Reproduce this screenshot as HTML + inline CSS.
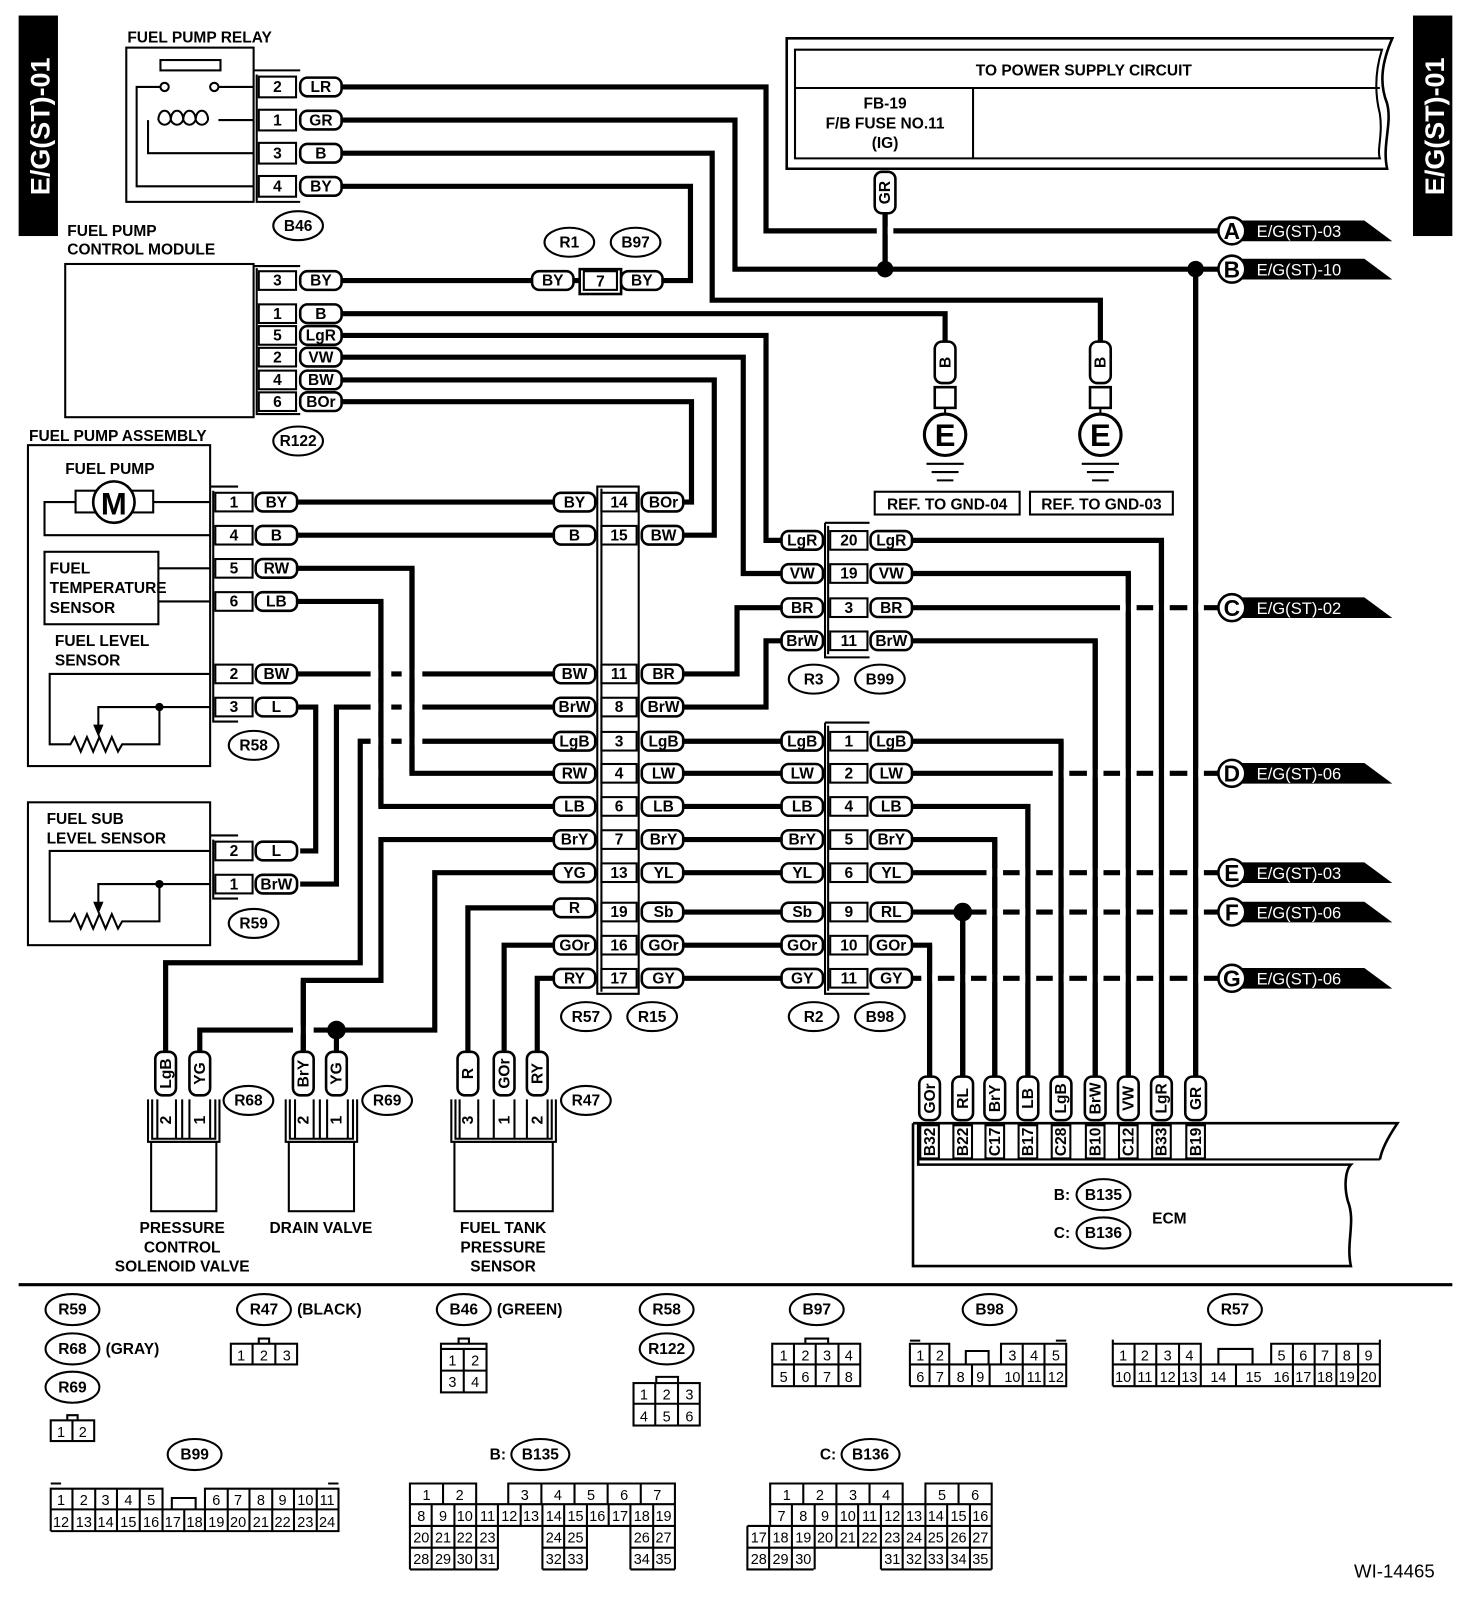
<!DOCTYPE html>
<html><head><meta charset="utf-8"><style>
html,body{margin:0;padding:0;background:#fff}
svg{display:block}
.w{stroke:#000;stroke-width:5;fill:none}
.g{stroke:#fff;stroke-width:8;fill:none}
.l{stroke:#000;stroke-width:2;fill:none}
.b{stroke:#000;stroke-width:2.5;fill:#fff}
text{font-family:"Liberation Sans",sans-serif;font-weight:bold;font-size:15px}
.m{text-anchor:middle}
.n{font-weight:normal;font-size:14px;text-anchor:middle}
</style></head><body>
<svg width="1472" height="1616" viewBox="0 0 1422 1561" preserveAspectRatio="none" xmlns="http://www.w3.org/2000/svg">
<rect width="1422" height="1561" fill="#fff"/>
<rect x="18" y="15" width="38" height="213" fill="#000"/>
<text transform="translate(48,122) rotate(-90)" class="m" fill="#fff" style="font-size:26px">E/G(ST)-01</text>
<rect x="1365" y="15" width="38" height="213" fill="#000"/>
<text transform="translate(1395,122) rotate(-90)" class="m" fill="#fff" style="font-size:26px">E/G(ST)-01</text>

<g class="w">
<polyline points="330,84 740,84 740,223 1178,223"/>
<polyline points="330,116 710,116 710,260 1178,260"/>
<polyline points="330,148 688,148 688,290 1063,290 1063,330"/>
<polyline points="330,180 667,180 667,271 640,271"/>
<polyline points="330,271 515,271"/>
<polyline points="330,303 913,303 913,330"/>
<polyline points="330,324 740,324 740,522 755,522"/>
<polyline points="330,345 718,345 718,554 755,554"/>
<polyline points="330,367 690,367 690,517 660,517"/>
<polyline points="330,388 668,388 668,485 660,485"/>
<polyline points="288,485 535,485"/>
<polyline points="288,517 535,517"/>
<polyline points="288,549 398,549 398,747 535,747"/>
<polyline points="288,581 368,581 368,779 535,779"/>
<polyline points="288,651 535,651"/>
<polyline points="288,683 305,683 305,822 290,822"/>
<polyline points="535,683 325,683 325,854 290,854"/>
<polyline points="535,716 348,716 348,930 160,930 160,1016"/>
<polyline points="535,811 368,811 368,947 293,947 293,1016"/>
<polyline points="535,843 420,843 420,995 193,995 193,1016"/>
<polyline points="325,995 325,1016"/>
<polyline points="535,877 452,877 452,1016"/>
<polyline points="535,913 487,913 487,1016"/>
<polyline points="535,945 519,945 519,1016"/>
<polyline points="660,651 712,651 712,587 755,587"/>
<polyline points="660,683 740,683 740,619 755,619"/>
<polyline points="660,716 755,716"/><polyline points="660,747 755,747"/><polyline points="660,779 755,779"/>
<polyline points="660,811 755,811"/><polyline points="660,843 755,843"/><polyline points="660,881 755,881"/>
<polyline points="660,913 755,913"/><polyline points="660,945 755,945"/>
<polyline points="855,200 855,260"/>
<polyline points="880,522 1122,522 1122,1040"/>
<polyline points="880,554 1090,554 1090,1040"/>
<polyline points="880,587 1178,587"/>
<polyline points="880,619 1058,619 1058,1040"/>
<polyline points="880,716 1025,716 1025,1040"/>
<polyline points="880,747 1178,747"/>
<polyline points="880,779 993,779 993,1040"/>
<polyline points="880,811 961,811 961,1040"/>
<polyline points="880,843 1178,843"/>
<polyline points="880,881 1178,881"/>
<polyline points="930,881 930,1040"/>
<polyline points="880,913 898,913 898,1040"/>
<polyline points="880,945 1178,945"/>
<polyline points="1155,260 1155,1040"/>
</g>
<g class="g">
<path d="M847,223h16M1082,587h16M1114,587h16M1147,587h16M1017,747h16M1050,747h16M1082,747h16M1114,747h16M1147,747h16"/>
<path d="M953,843h16M985,843h16M1017,843h16M1050,843h16M1082,843h16M1114,843h16M1147,843h16"/>
<path d="M953,881h16M985,881h16M1017,881h16M1050,881h16M1082,881h16M1114,881h16M1147,881h16"/>
<path d="M890,945h16M922,945h16M953,945h16M985,945h16M1017,945h16M1050,945h16M1082,945h16M1114,945h16M1147,945h16"/>
<path d="M358,651h20M388,651h20M358,683h20M388,683h20M358,716h20M388,716h20M358,747h20M283,995h20"/>
</g>
<g class="w">
<path d="M855,200V260M1090,554V1040M1122,522V1040M1155,260V1040M1025,716V1040M1058,619V1040M961,811V1040M993,779V1040M930,881V1040M898,913V1040M368,581V779M398,549V747M293,947V1016"/>
</g>
<circle cx="855" cy="260" r="8"/><circle cx="1155" cy="260" r="8"/><circle cx="930" cy="881" r="9"/><circle cx="325" cy="995" r="9"/>

<text x="123" y="41">FUEL PUMP RELAY</text>
<rect x="122" y="46" width="123" height="149" class="l"/>
<rect x="155" y="58" width="58" height="10" class="l"/>
<circle cx="159" cy="84" r="4" class="b" style="stroke-width:2"/><circle cx="207" cy="84" r="4" class="b" style="stroke-width:2"/>
<path class="l" d="M155,84H132V180H245M211,84H245M143,116V148H245M211,116H245M153,116c0-12 12-12 12,0c0-12 12-12 12,0c0-12 12-12 12,0c0-12 12-12 12,0"/>
<path class="l" d="M165,116c-3 6 -9 6 -12 0M177,116c-3 6 -9 6 -12 0M189,116c-3 6 -9 6 -12 0M201,116c-3 6 -9 6 -12 0"/>
<path class="l" d="M245,68H290M248,72V195H290"/>
<g class="l"><rect x="250" y="74" width="36" height="20"/><rect x="250" y="106" width="36" height="20"/><rect x="250" y="138" width="36" height="20"/><rect x="250" y="170" width="36" height="20"/></g>
<g class="m"><text x="268" y="89">2</text><text x="268" y="121">1</text><text x="268" y="153">3</text><text x="268" y="185">4</text></g>
<g class="b"><rect x="290" y="75" width="40" height="18" rx="7"/><rect x="290" y="107" width="40" height="18" rx="7"/><rect x="290" y="139" width="40" height="18" rx="7"/><rect x="290" y="171" width="40" height="18" rx="7"/></g>
<g class="m"><text x="310" y="89">LR</text><text x="310" y="121">GR</text><text x="310" y="153">B</text><text x="310" y="185">BY</text></g>
<ellipse cx="288" cy="218" rx="24" ry="14" class="b" style="stroke-width:2"/><text x="288" y="223" class="m">B46</text>

<text x="65" y="228">FUEL PUMP</text><text x="65" y="246">CONTROL MODULE</text>
<rect x="63" y="255" width="182" height="148" class="l"/>
<path class="l" d="M245,257H290M248,259V400H290"/>
<g class="l"><rect x="250" y="262" width="36" height="18"/><rect x="250" y="294" width="36" height="18"/><rect x="250" y="315" width="36" height="18"/><rect x="250" y="336" width="36" height="18"/><rect x="250" y="358" width="36" height="18"/><rect x="250" y="379" width="36" height="18"/></g>
<g class="m"><text x="268" y="276">3</text><text x="268" y="308">1</text><text x="268" y="329">5</text><text x="268" y="350">2</text><text x="268" y="372">4</text><text x="268" y="393">6</text></g>
<g class="b"><rect x="290" y="262" width="40" height="18" rx="7"/><rect x="290" y="294" width="40" height="18" rx="7"/><rect x="290" y="315" width="40" height="18" rx="7"/><rect x="290" y="336" width="40" height="18" rx="7"/><rect x="290" y="358" width="40" height="18" rx="7"/><rect x="290" y="379" width="40" height="18" rx="7"/></g>
<g class="m"><text x="310" y="276">BY</text><text x="310" y="308">B</text><text x="310" y="329">LgR</text><text x="310" y="350">VW</text><text x="310" y="372">BW</text><text x="310" y="393">BOr</text></g>
<ellipse cx="288" cy="426" rx="24" ry="14" class="b" style="stroke-width:2"/><text x="288" y="431" class="m">R122</text>

<ellipse cx="550" cy="234" rx="24" ry="14" class="b" style="stroke-width:2"/><text x="550" y="239" class="m">R1</text>
<ellipse cx="614" cy="234" rx="24" ry="14" class="b" style="stroke-width:2"/><text x="614" y="239" class="m">B97</text>
<path class="w" d="M553,271H600"/>
<rect x="560" y="260" width="40" height="24" class="b"/><rect x="564" y="262" width="32" height="18" class="l"/><text x="580" y="277" class="m">7</text>
<rect x="514" y="262" width="40" height="18" rx="7" class="b"/><text x="534" y="276" class="m">BY</text>
<rect x="600" y="262" width="40" height="18" rx="7" class="b"/><text x="620" y="276" class="m">BY</text>

<path class="l" d="M760,37H1345C1335,60 1332,80 1340,100C1345,120 1335,140 1340,163H760Z" style="stroke-width:2.5"/>
<path class="l" d="M768,48H1335C1328,70 1328,90 1333,110C1336,130 1330,145 1333,153H768Z"/>
<path class="l" d="M768,85H1333M940,85V153"/>
<text x="1047" y="73" class="m">TO POWER SUPPLY CIRCUIT</text>
<g class="m"><text x="855" y="105">FB-19</text><text x="855" y="124">F/B FUSE NO.11</text><text x="855" y="143">(IG)</text></g>
<rect x="845" y="166" width="20" height="40" rx="7" class="b"/><text transform="translate(860,186) rotate(-90)" class="m">GR</text>

<g>
<polygon points="1200,213 1318,213 1345,233 1200,233" fill="#000"/><circle cx="1190" cy="223" r="13" class="b"/><text x="1190" y="231" class="m" style="font-size:22px">A</text><text x="1214" y="229" fill="#fff" style="font-weight:normal;font-size:16px">E/G(ST)-03</text>
<polygon points="1200,250 1318,250 1345,270 1200,270" fill="#000"/><circle cx="1190" cy="260" r="13" class="b"/><text x="1190" y="268" class="m" style="font-size:22px">B</text><text x="1214" y="266" fill="#fff" style="font-weight:normal;font-size:16px">E/G(ST)-10</text>
<polygon points="1200,577 1318,577 1345,597 1200,597" fill="#000"/><circle cx="1190" cy="587" r="13" class="b"/><text x="1190" y="595" class="m" style="font-size:22px">C</text><text x="1214" y="593" fill="#fff" style="font-weight:normal;font-size:16px">E/G(ST)-02</text>
<polygon points="1200,737 1318,737 1345,757 1200,757" fill="#000"/><circle cx="1190" cy="747" r="13" class="b"/><text x="1190" y="755" class="m" style="font-size:22px">D</text><text x="1214" y="753" fill="#fff" style="font-weight:normal;font-size:16px">E/G(ST)-06</text>
<polygon points="1200,833 1318,833 1345,853 1200,853" fill="#000"/><circle cx="1190" cy="843" r="13" class="b"/><text x="1190" y="851" class="m" style="font-size:22px">E</text><text x="1214" y="849" fill="#fff" style="font-weight:normal;font-size:16px">E/G(ST)-03</text>
<polygon points="1200,871 1318,871 1345,891 1200,891" fill="#000"/><circle cx="1190" cy="881" r="13" class="b"/><text x="1190" y="889" class="m" style="font-size:22px">F</text><text x="1214" y="887" fill="#fff" style="font-weight:normal;font-size:16px">E/G(ST)-06</text>
<polygon points="1200,935 1318,935 1345,955 1200,955" fill="#000"/><circle cx="1190" cy="945" r="13" class="b"/><text x="1190" y="953" class="m" style="font-size:22px">G</text><text x="1214" y="951" fill="#fff" style="font-weight:normal;font-size:16px">E/G(ST)-06</text>
</g>

<g>
<rect x="903" y="330" width="20" height="40" rx="7" class="b"/><text transform="translate(918,350) rotate(-90)" class="m">B</text>
<rect x="903" y="374" width="20" height="20" class="b"/><path class="l" d="M913,394V400"/>
<circle cx="913" cy="420" r="20" class="b" style="stroke-width:3"/><text x="913" y="431" class="m" style="font-size:30px">E</text>
<path class="l" d="M895,448H931M900,456H926M905,464H921"/>
<rect x="1053" y="330" width="20" height="40" rx="7" class="b"/><text transform="translate(1068,350) rotate(-90)" class="m">B</text>
<rect x="1053" y="374" width="20" height="20" class="b"/><path class="l" d="M1063,394V400"/>
<circle cx="1063" cy="420" r="20" class="b" style="stroke-width:3"/><text x="1063" y="431" class="m" style="font-size:30px">E</text>
<path class="l" d="M1045,448H1081M1050,456H1076M1055,464H1071"/>
<rect x="845" y="475" width="140" height="22" class="l"/><text x="915" y="492" class="m">REF. TO GND-04</text>
<rect x="995" y="475" width="138" height="22" class="l"/><text x="1064" y="492" class="m">REF. TO GND-03</text>
</g>

<text x="28" y="426">FUEL PUMP ASSEMBLY</text>
<rect x="27" y="430" width="176" height="310" class="l"/>
<text x="63" y="458">FUEL PUMP</text>
<rect x="73" y="474" width="75" height="21" class="l"/>
<circle cx="110" cy="485" r="20" class="b"/><text x="110" y="497" class="m" style="font-size:30px">M</text>
<path class="l" d="M73,485H43V517H203M148,485H203"/>
<rect x="43" y="533" width="110" height="70" class="l"/>
<text x="48" y="554">FUEL</text><text x="48" y="573">TEMPERATURE</text><text x="48" y="592">SENSOR</text>
<path class="l" d="M153,549H203M153,581H203"/>
<text x="53" y="624">FUEL LEVEL</text><text x="53" y="643">SENSOR</text>
<path class="l" d="M203,651H48V719H68l4,-7 6,14 6,-14 6,14 6,-14 6,14 6,-14 6,14 4,-7H154V683H203M154,683H95V702"/>
<polygon points="90,700 100,700 95,712"/><circle cx="154" cy="683" r="4"/>
<path class="l" d="M203,470H230M206,474V697H230"/>
<g class="l"><rect x="208" y="476" width="36" height="18"/><rect x="208" y="508" width="36" height="18"/><rect x="208" y="540" width="36" height="18"/><rect x="208" y="572" width="36" height="18"/><rect x="208" y="642" width="36" height="18"/><rect x="208" y="674" width="36" height="18"/></g>
<g class="m"><text x="226" y="490">1</text><text x="226" y="522">4</text><text x="226" y="554">5</text><text x="226" y="586">6</text><text x="226" y="656">2</text><text x="226" y="688">3</text></g>
<g class="b"><rect x="247" y="476" width="40" height="18" rx="7"/><rect x="247" y="508" width="40" height="18" rx="7"/><rect x="247" y="540" width="40" height="18" rx="7"/><rect x="247" y="572" width="40" height="18" rx="7"/><rect x="247" y="642" width="40" height="18" rx="7"/><rect x="247" y="674" width="40" height="18" rx="7"/></g>
<g class="m"><text x="267" y="490">BY</text><text x="267" y="522">B</text><text x="267" y="554">RW</text><text x="267" y="586">LB</text><text x="267" y="656">BW</text><text x="267" y="688">L</text></g>
<ellipse cx="245" cy="720" rx="24" ry="14" class="b" style="stroke-width:2"/><text x="245" y="725" class="m">R58</text>

<rect x="27" y="775" width="176" height="138" class="l"/>
<text x="45" y="796">FUEL SUB</text><text x="45" y="815">LEVEL SENSOR</text>
<path class="l" d="M203,822H48V890H68l4,-7 6,14 6,-14 6,14 6,-14 6,14 6,-14 6,14 4,-7H154V854H203M154,854H95V873"/>
<polygon points="90,871 100,871 95,883"/><circle cx="154" cy="854" r="4"/>
<path class="l" d="M203,807H230M206,811V868H230"/>
<g class="l"><rect x="208" y="813" width="36" height="18"/><rect x="208" y="845" width="36" height="18"/></g>
<g class="m"><text x="226" y="827">2</text><text x="226" y="859">1</text></g>
<g class="b"><rect x="247" y="813" width="40" height="18" rx="7"/><rect x="247" y="845" width="40" height="18" rx="7"/></g>
<g class="m"><text x="267" y="827">L</text><text x="267" y="859">BrW</text></g>
<ellipse cx="245" cy="892" rx="24" ry="14" class="b" style="stroke-width:2"/><text x="245" y="897" class="m">R59</text>

<path class="l" d="M577,470V960H617V470Z M581,472V958"/>
<g class="l">
<rect x="581" y="476" width="34" height="18"/><rect x="581" y="508" width="34" height="18"/><rect x="581" y="642" width="34" height="18"/><rect x="581" y="674" width="34" height="18"/><rect x="581" y="707" width="34" height="18"/><rect x="581" y="738" width="34" height="18"/><rect x="581" y="770" width="34" height="18"/><rect x="581" y="802" width="34" height="18"/><rect x="581" y="834" width="34" height="18"/><rect x="581" y="872" width="34" height="18"/><rect x="581" y="904" width="34" height="18"/><rect x="581" y="936" width="34" height="18"/>
</g>
<g class="m"><text x="598" y="490">14</text><text x="598" y="522">15</text><text x="598" y="656">11</text><text x="598" y="688">8</text><text x="598" y="721">3</text><text x="598" y="752">4</text><text x="598" y="784">6</text><text x="598" y="816">7</text><text x="598" y="848">13</text><text x="598" y="886">19</text><text x="598" y="918">16</text><text x="598" y="950">17</text></g>
<g class="b">
<rect x="535" y="476" width="40" height="18" rx="7"/><rect x="535" y="508" width="40" height="18" rx="7"/><rect x="535" y="642" width="40" height="18" rx="7"/><rect x="535" y="674" width="40" height="18" rx="7"/><rect x="535" y="707" width="40" height="18" rx="7"/><rect x="535" y="738" width="40" height="18" rx="7"/><rect x="535" y="770" width="40" height="18" rx="7"/><rect x="535" y="802" width="40" height="18" rx="7"/><rect x="535" y="834" width="40" height="18" rx="7"/><rect x="535" y="868" width="40" height="18" rx="7"/><rect x="535" y="904" width="40" height="18" rx="7"/><rect x="535" y="936" width="40" height="18" rx="7"/>
<rect x="620" y="476" width="40" height="18" rx="7"/><rect x="620" y="508" width="40" height="18" rx="7"/><rect x="620" y="642" width="40" height="18" rx="7"/><rect x="620" y="674" width="40" height="18" rx="7"/><rect x="620" y="707" width="40" height="18" rx="7"/><rect x="620" y="738" width="40" height="18" rx="7"/><rect x="620" y="770" width="40" height="18" rx="7"/><rect x="620" y="802" width="40" height="18" rx="7"/><rect x="620" y="834" width="40" height="18" rx="7"/><rect x="620" y="872" width="40" height="18" rx="7"/><rect x="620" y="904" width="40" height="18" rx="7"/><rect x="620" y="936" width="40" height="18" rx="7"/>
</g>
<g class="m">
<text x="555" y="490">BY</text><text x="555" y="522">B</text><text x="555" y="656">BW</text><text x="555" y="688">BrW</text><text x="555" y="721">LgB</text><text x="555" y="752">RW</text><text x="555" y="784">LB</text><text x="555" y="816">BrY</text><text x="555" y="848">YG</text><text x="555" y="882">R</text><text x="555" y="918">GOr</text><text x="555" y="950">RY</text>
<text x="641" y="490">BOr</text><text x="641" y="522">BW</text><text x="641" y="656">BR</text><text x="641" y="688">BrW</text><text x="641" y="721">LgB</text><text x="641" y="752">LW</text><text x="641" y="784">LB</text><text x="641" y="816">BrY</text><text x="641" y="848">YL</text><text x="641" y="886">Sb</text><text x="641" y="918">GOr</text><text x="641" y="950">GY</text>
</g>
<ellipse cx="566" cy="982" rx="24" ry="14" class="b" style="stroke-width:2"/><text x="566" y="987" class="m">R57</text>
<ellipse cx="630" cy="982" rx="24" ry="14" class="b" style="stroke-width:2"/><text x="630" y="987" class="m">R15</text>

<path class="l" d="M797,505V635H840M797,505H840M800,508V632"/>
<g class="l"><rect x="802" y="513" width="36" height="18"/><rect x="802" y="545" width="36" height="18"/><rect x="802" y="578" width="36" height="18"/><rect x="802" y="610" width="36" height="18"/></g>
<g class="m"><text x="820" y="527">20</text><text x="820" y="559">19</text><text x="820" y="592">3</text><text x="820" y="624">11</text></g>
<g class="b"><rect x="755" y="513" width="40" height="18" rx="7"/><rect x="755" y="545" width="40" height="18" rx="7"/><rect x="755" y="578" width="40" height="18" rx="7"/><rect x="755" y="610" width="40" height="18" rx="7"/>
<rect x="841" y="513" width="40" height="18" rx="7"/><rect x="841" y="545" width="40" height="18" rx="7"/><rect x="841" y="578" width="40" height="18" rx="7"/><rect x="841" y="610" width="40" height="18" rx="7"/></g>
<g class="m"><text x="775" y="527">LgR</text><text x="775" y="559">VW</text><text x="775" y="592">BR</text><text x="775" y="624">BrW</text><text x="861" y="527">LgR</text><text x="861" y="559">VW</text><text x="861" y="592">BR</text><text x="861" y="624">BrW</text></g>
<ellipse cx="786" cy="656" rx="24" ry="14" class="b" style="stroke-width:2"/><text x="786" y="661" class="m">R3</text>
<ellipse cx="850" cy="656" rx="24" ry="14" class="b" style="stroke-width:2"/><text x="850" y="661" class="m">B99</text>

<path class="l" d="M797,698V960H840M797,698H840M800,701V957"/>
<g class="l"><rect x="802" y="707" width="36" height="18"/><rect x="802" y="738" width="36" height="18"/><rect x="802" y="770" width="36" height="18"/><rect x="802" y="802" width="36" height="18"/><rect x="802" y="834" width="36" height="18"/><rect x="802" y="872" width="36" height="18"/><rect x="802" y="904" width="36" height="18"/><rect x="802" y="936" width="36" height="18"/></g>
<g class="m"><text x="820" y="721">1</text><text x="820" y="752">2</text><text x="820" y="784">4</text><text x="820" y="816">5</text><text x="820" y="848">6</text><text x="820" y="886">9</text><text x="820" y="918">10</text><text x="820" y="950">11</text></g>
<g class="b"><rect x="755" y="707" width="40" height="18" rx="7"/><rect x="755" y="738" width="40" height="18" rx="7"/><rect x="755" y="770" width="40" height="18" rx="7"/><rect x="755" y="802" width="40" height="18" rx="7"/><rect x="755" y="834" width="40" height="18" rx="7"/><rect x="755" y="872" width="40" height="18" rx="7"/><rect x="755" y="904" width="40" height="18" rx="7"/><rect x="755" y="936" width="40" height="18" rx="7"/>
<rect x="841" y="707" width="40" height="18" rx="7"/><rect x="841" y="738" width="40" height="18" rx="7"/><rect x="841" y="770" width="40" height="18" rx="7"/><rect x="841" y="802" width="40" height="18" rx="7"/><rect x="841" y="834" width="40" height="18" rx="7"/><rect x="841" y="872" width="40" height="18" rx="7"/><rect x="841" y="904" width="40" height="18" rx="7"/><rect x="841" y="936" width="40" height="18" rx="7"/></g>
<g class="m"><text x="775" y="721">LgB</text><text x="775" y="752">LW</text><text x="775" y="784">LB</text><text x="775" y="816">BrY</text><text x="775" y="848">YL</text><text x="775" y="886">Sb</text><text x="775" y="918">GOr</text><text x="775" y="950">GY</text>
<text x="861" y="721">LgB</text><text x="861" y="752">LW</text><text x="861" y="784">LB</text><text x="861" y="816">BrY</text><text x="861" y="848">YL</text><text x="861" y="886">RL</text><text x="861" y="918">GOr</text><text x="861" y="950">GY</text></g>
<ellipse cx="786" cy="982" rx="24" ry="14" class="b" style="stroke-width:2"/><text x="786" y="987" class="m">R2</text>
<ellipse cx="850" cy="982" rx="24" ry="14" class="b" style="stroke-width:2"/><text x="850" y="987" class="m">B98</text>

<path class="l" d="M882,1085H1350C1340,1100 1335,1110 1333,1120M882,1085V1223H1305C1300,1200 1310,1180 1302,1160C1298,1145 1300,1130 1305,1125H887V1085" style="stroke-width:2.5"/>
<path class="l" d="M887,1120H1333"/>
<g class="b">
<rect x="888" y="1040" width="20" height="42" rx="7"/><rect x="920" y="1040" width="20" height="42" rx="7"/><rect x="951" y="1040" width="20" height="42" rx="7"/><rect x="983" y="1040" width="20" height="42" rx="7"/><rect x="1015" y="1040" width="20" height="42" rx="7"/><rect x="1048" y="1040" width="20" height="42" rx="7"/><rect x="1080" y="1040" width="20" height="42" rx="7"/><rect x="1112" y="1040" width="20" height="42" rx="7"/><rect x="1145" y="1040" width="20" height="42" rx="7"/>
</g>
<g class="l"><rect x="889" y="1087" width="18" height="32"/><rect x="921" y="1087" width="18" height="32"/><rect x="952" y="1087" width="18" height="32"/><rect x="984" y="1087" width="18" height="32"/><rect x="1016" y="1087" width="18" height="32"/><rect x="1049" y="1087" width="18" height="32"/><rect x="1081" y="1087" width="18" height="32"/><rect x="1113" y="1087" width="18" height="32"/><rect x="1146" y="1087" width="18" height="32"/></g>
<g class="m" style="font-size:14px">
<text transform="translate(903,1061) rotate(-90)">GOr</text><text transform="translate(935,1061) rotate(-90)">RL</text><text transform="translate(966,1061) rotate(-90)">BrY</text><text transform="translate(998,1061) rotate(-90)">LB</text><text transform="translate(1030,1061) rotate(-90)">LgB</text><text transform="translate(1063,1061) rotate(-90)">BrW</text><text transform="translate(1095,1061) rotate(-90)">VW</text><text transform="translate(1127,1061) rotate(-90)">LgR</text><text transform="translate(1160,1061) rotate(-90)">GR</text>
<text transform="translate(903,1103) rotate(-90)">B32</text><text transform="translate(935,1103) rotate(-90)">B22</text><text transform="translate(966,1103) rotate(-90)">C17</text><text transform="translate(998,1103) rotate(-90)">B17</text><text transform="translate(1030,1103) rotate(-90)">C28</text><text transform="translate(1063,1103) rotate(-90)">B10</text><text transform="translate(1095,1103) rotate(-90)">C12</text><text transform="translate(1127,1103) rotate(-90)">B33</text><text transform="translate(1160,1103) rotate(-90)">B19</text>
</g>
<text x="1018" y="1159">B:</text><ellipse cx="1066" cy="1154" rx="26" ry="15" class="b" style="stroke-width:2"/><text x="1066" y="1159" class="m">B135</text>
<text x="1018" y="1196">C:</text><ellipse cx="1066" cy="1191" rx="26" ry="15" class="b" style="stroke-width:2"/><text x="1066" y="1196" class="m">B136</text>
<text x="1113" y="1182">ECM</text>

<g class="b">
<rect x="150" y="1016" width="20" height="42" rx="7"/><rect x="183" y="1016" width="20" height="42" rx="7"/>
<rect x="283" y="1016" width="20" height="42" rx="7"/><rect x="315" y="1016" width="20" height="42" rx="7"/>
<rect x="442" y="1016" width="20" height="42" rx="7"/><rect x="477" y="1016" width="20" height="42" rx="7"/><rect x="509" y="1016" width="20" height="42" rx="7"/>
</g>
<g class="m"><text transform="translate(165,1037) rotate(-90)">LgB</text><text transform="translate(198,1037) rotate(-90)">YG</text><text transform="translate(298,1037) rotate(-90)">BrY</text><text transform="translate(330,1037) rotate(-90)">YG</text><text transform="translate(457,1037) rotate(-90)">R</text><text transform="translate(492,1037) rotate(-90)">GOr</text><text transform="translate(524,1037) rotate(-90)">RY</text></g>
<g class="l">
<path d="M143,1062V1103H212V1062M147,1062V1100H208V1062M176,1062V1100M152,1062V1100H170V1062M183,1062V1100H203V1062"/>
<rect x="146" y="1103" width="63" height="67"/>
<path d="M276,1062V1103H345V1062M280,1062V1100H341V1062M309,1062V1100M285,1062V1100H303V1062M316,1062V1100H336V1062"/>
<rect x="279" y="1103" width="63" height="67"/>
<path d="M436,1062V1103H537V1062M440,1062V1100H533V1062M444,1062V1100H462V1062M477,1062V1100H497V1062M509,1062V1100H529V1062"/>
<rect x="439" y="1103" width="95" height="67"/>
</g>
<g class="m"><text transform="translate(165,1082) rotate(-90)">2</text><text transform="translate(198,1082) rotate(-90)">1</text><text transform="translate(298,1082) rotate(-90)">2</text><text transform="translate(330,1082) rotate(-90)">1</text><text transform="translate(457,1082) rotate(-90)">3</text><text transform="translate(492,1082) rotate(-90)">1</text><text transform="translate(524,1082) rotate(-90)">2</text></g>
<ellipse cx="240" cy="1063" rx="24" ry="14" class="b" style="stroke-width:2"/><text x="240" y="1068" class="m">R68</text>
<ellipse cx="374" cy="1063" rx="24" ry="14" class="b" style="stroke-width:2"/><text x="374" y="1068" class="m">R69</text>
<ellipse cx="566" cy="1063" rx="24" ry="14" class="b" style="stroke-width:2"/><text x="566" y="1068" class="m">R47</text>
<g class="m"><text x="176" y="1191">PRESSURE</text><text x="176" y="1210">CONTROL</text><text x="176" y="1228">SOLENOID VALVE</text><text x="310" y="1191">DRAIN VALVE</text><text x="486" y="1191">FUEL TANK</text><text x="486" y="1210">PRESSURE</text><text x="486" y="1228">SENSOR</text></g>

<path d="M18,1241H1403" stroke="#000" stroke-width="3"/>

<g>
<ellipse cx="70" cy="1265" rx="26" ry="15" class="b" style="stroke-width:2"/><text x="70" y="1270" class="m">R59</text>
<ellipse cx="70" cy="1303" rx="26" ry="15" class="b" style="stroke-width:2"/><text x="70" y="1308" class="m">R68</text><text x="102" y="1308">(GRAY)</text>
<ellipse cx="70" cy="1340" rx="26" ry="15" class="b" style="stroke-width:2"/><text x="70" y="1345" class="m">R69</text>
<path class="l" d="M65,1372V1367H75V1372"/><rect x="49" y="1372" width="42" height="20" class="l"/><path class="l" d="M70,1372V1392"/>
<text x="59" y="1388" class="n">1</text><text x="80" y="1388" class="n">2</text>

<ellipse cx="255" cy="1265" rx="26" ry="15" class="b" style="stroke-width:2"/><text x="255" y="1270" class="m">R47</text><text x="287" y="1270">(BLACK)</text>
<path class="l" d="M250,1298V1293H260V1298"/><rect x="223" y="1298" width="64" height="20" class="l"/><path class="l" d="M244,1298V1318M266,1298V1318"/>
<text x="233" y="1314" class="n">1</text><text x="255" y="1314" class="n">2</text><text x="277" y="1314" class="n">3</text>

<ellipse cx="448" cy="1265" rx="26" ry="15" class="b" style="stroke-width:2"/><text x="448" y="1270" class="m">B46</text><text x="480" y="1270">(GREEN)</text>
<path class="l" d="M443,1298V1293H453V1298"/><rect x="426" y="1298" width="44" height="47" class="l"/><path class="l" d="M426,1303H470M426,1324H470M448,1303V1345"/>
<text x="437" y="1319" class="n">1</text><text x="459" y="1319" class="n">2</text><text x="437" y="1340" class="n">3</text><text x="459" y="1340" class="n">4</text>

<ellipse cx="644" cy="1265" rx="26" ry="15" class="b" style="stroke-width:2"/><text x="644" y="1270" class="m">R58</text>
<ellipse cx="644" cy="1303" rx="26" ry="15" class="b" style="stroke-width:2"/><text x="644" y="1308" class="m">R122</text>
<path class="l" d="M634,1336V1330H655V1336"/><rect x="612" y="1336" width="64" height="41" class="l"/><path class="l" d="M612,1356H676M633,1336V1377M655,1336V1377"/>
<text x="622" y="1352" class="n">1</text><text x="644" y="1352" class="n">2</text><text x="666" y="1352" class="n">3</text><text x="622" y="1373" class="n">4</text><text x="644" y="1373" class="n">5</text><text x="666" y="1373" class="n">6</text>

<ellipse cx="789" cy="1265" rx="26" ry="15" class="b" style="stroke-width:2"/><text x="789" y="1270" class="m">B97</text>
<path class="l" d="M778,1298V1293H800V1298"/><rect x="746" y="1298" width="85" height="41" class="l"/><path class="l" d="M746,1318H831M767,1298V1339M788,1298V1339M810,1298V1339"/>
<text x="757" y="1314" class="n">1</text><text x="778" y="1314" class="n">2</text><text x="799" y="1314" class="n">3</text><text x="820" y="1314" class="n">4</text>
<text x="757" y="1335" class="n">5</text><text x="778" y="1335" class="n">6</text><text x="799" y="1335" class="n">7</text><text x="820" y="1335" class="n">8</text>

<ellipse cx="956" cy="1265" rx="26" ry="15" class="b" style="stroke-width:2"/><text x="956" y="1270" class="m">B98</text>
<path class="l" d="M879,1339V1298H917V1318M967,1318V1298H1030V1339H879M879,1318H1030M898,1298V1339M933,1318V1305H955V1318M939,1318V1339M956,1318V1339M988,1298V1339M1009,1298V1339M917,1318V1339M879,1295H889M1020,1295H1030"/>
<text x="889" y="1314" class="n">1</text><text x="908" y="1314" class="n">2</text><text x="978" y="1314" class="n">3</text><text x="999" y="1314" class="n">4</text><text x="1020" y="1314" class="n">5</text>
<text x="889" y="1335" class="n">6</text><text x="908" y="1335" class="n">7</text><text x="928" y="1335" class="n">8</text><text x="947" y="1335" class="n">9</text><text x="978" y="1335" class="n">10</text><text x="999" y="1335" class="n">11</text><text x="1020" y="1335" class="n">12</text>

<ellipse cx="1193" cy="1265" rx="26" ry="15" class="b" style="stroke-width:2"/><text x="1193" y="1270" class="m">R57</text>
<path class="l" d="M1075,1339V1298H1160V1318M1228,1318V1298H1333V1339H1075M1075,1318H1333M1096,1298V1339M1117,1298V1339M1139,1298V1339M1160,1318V1339M1177,1318V1303H1210V1318M1194,1318V1339M1249,1298V1339M1270,1298V1339M1291,1298V1339M1312,1298V1339M1075,1294V1298M1333,1294V1298"/>
<text x="1085" y="1314" class="n">1</text><text x="1106" y="1314" class="n">2</text><text x="1128" y="1314" class="n">3</text><text x="1149" y="1314" class="n">4</text><text x="1238" y="1314" class="n">5</text><text x="1259" y="1314" class="n">6</text><text x="1280" y="1314" class="n">7</text><text x="1301" y="1314" class="n">8</text><text x="1322" y="1314" class="n">9</text>
<text x="1085" y="1335" class="n">10</text><text x="1106" y="1335" class="n">11</text><text x="1128" y="1335" class="n">12</text><text x="1149" y="1335" class="n">13</text><text x="1177" y="1335" class="n">14</text><text x="1211" y="1335" class="n">15</text><text x="1238" y="1335" class="n">16</text><text x="1259" y="1335" class="n">17</text><text x="1280" y="1335" class="n">18</text><text x="1301" y="1335" class="n">19</text><text x="1322" y="1335" class="n">20</text>

<ellipse cx="188" cy="1405" rx="26" ry="15" class="b" style="stroke-width:2"/><text x="188" y="1410" class="m">B99</text>
<path class="l" d="M49,1479V1438H157V1458M198,1458V1438H327V1479H49M49,1458H327M70,1438V1479M92,1438V1479M113,1438V1479M135,1438V1479M157,1458V1479M166,1458V1447H189V1458M178,1458V1479M198,1458V1479M220,1438V1479M241,1438V1479M263,1438V1479M284,1438V1479M306,1438V1479M49,1433H59M317,1433H327"/>
<text x="59" y="1454" class="n">1</text><text x="81" y="1454" class="n">2</text><text x="102" y="1454" class="n">3</text><text x="124" y="1454" class="n">4</text><text x="146" y="1454" class="n">5</text><text x="209" y="1454" class="n">6</text><text x="230" y="1454" class="n">7</text><text x="252" y="1454" class="n">8</text><text x="273" y="1454" class="n">9</text><text x="295" y="1454" class="n">10</text><text x="316" y="1454" class="n">11</text>
<text x="59" y="1475" class="n">12</text><text x="81" y="1475" class="n">13</text><text x="102" y="1475" class="n">14</text><text x="124" y="1475" class="n">15</text><text x="146" y="1475" class="n">16</text><text x="167" y="1475" class="n">17</text><text x="188" y="1475" class="n">18</text><text x="209" y="1475" class="n">19</text><text x="230" y="1475" class="n">20</text><text x="252" y="1475" class="n">21</text><text x="273" y="1475" class="n">22</text><text x="295" y="1475" class="n">23</text><text x="316" y="1475" class="n">24</text>

<text x="473" y="1410">B:</text><ellipse cx="522" cy="1405" rx="28" ry="15" class="b" style="stroke-width:2"/><text x="522" y="1410" class="m">B135</text>
<path class="l" d="M396,1516V1433H460V1453M491,1453V1433H652V1516M396,1453H652M396,1474H652M396,1495H481M524,1495H567M609,1495H652M396,1516H481M524,1516H567M609,1516H652M428,1433V1453M523,1433V1453M555,1433V1453M587,1433V1453M619,1433V1453M417,1453V1516M439,1453V1516M460,1453V1516M481,1453V1516M503,1453V1474M524,1453V1516M545,1453V1516M567,1453V1516M588,1453V1474M609,1453V1516M631,1453V1516"/>
<text x="412" y="1449" class="n">1</text><text x="444" y="1449" class="n">2</text><text x="507" y="1449" class="n">3</text><text x="539" y="1449" class="n">4</text><text x="571" y="1449" class="n">5</text><text x="603" y="1449" class="n">6</text><text x="635" y="1449" class="n">7</text>
<text x="407" y="1469" class="n">8</text><text x="428" y="1469" class="n">9</text><text x="449" y="1469" class="n">10</text><text x="471" y="1469" class="n">11</text><text x="492" y="1469" class="n">12</text><text x="513" y="1469" class="n">13</text><text x="535" y="1469" class="n">14</text><text x="556" y="1469" class="n">15</text><text x="577" y="1469" class="n">16</text><text x="599" y="1469" class="n">17</text><text x="620" y="1469" class="n">18</text><text x="641" y="1469" class="n">19</text>
<text x="407" y="1490" class="n">20</text><text x="428" y="1490" class="n">21</text><text x="449" y="1490" class="n">22</text><text x="471" y="1490" class="n">23</text><text x="535" y="1490" class="n">24</text><text x="556" y="1490" class="n">25</text><text x="620" y="1490" class="n">26</text><text x="641" y="1490" class="n">27</text>
<text x="407" y="1511" class="n">28</text><text x="428" y="1511" class="n">29</text><text x="449" y="1511" class="n">30</text><text x="471" y="1511" class="n">31</text><text x="535" y="1511" class="n">32</text><text x="556" y="1511" class="n">33</text><text x="620" y="1511" class="n">34</text><text x="641" y="1511" class="n">35</text>

<text x="792" y="1410">C:</text><ellipse cx="841" cy="1405" rx="28" ry="15" class="b" style="stroke-width:2"/><text x="841" y="1410" class="m">B136</text>
<path class="l" d="M744,1474V1433H872V1453M894,1453V1433H958V1516M744,1453H958M722,1474H958M722,1495H958M722,1474V1516H786M851,1516H958M776,1433V1453M808,1433V1453M840,1433V1453M926,1433V1453M765,1453V1516M787,1453V1516M808,1453V1495M829,1453V1495M851,1453V1516M872,1453V1516M894,1453V1516M915,1453V1516M937,1453V1516M743,1474V1516"/>
<text x="760" y="1449" class="n">1</text><text x="792" y="1449" class="n">2</text><text x="824" y="1449" class="n">3</text><text x="856" y="1449" class="n">4</text><text x="910" y="1449" class="n">5</text><text x="942" y="1449" class="n">6</text>
<text x="755" y="1469" class="n">7</text><text x="776" y="1469" class="n">8</text><text x="797" y="1469" class="n">9</text><text x="819" y="1469" class="n">10</text><text x="840" y="1469" class="n">11</text><text x="862" y="1469" class="n">12</text><text x="883" y="1469" class="n">13</text><text x="904" y="1469" class="n">14</text><text x="926" y="1469" class="n">15</text><text x="947" y="1469" class="n">16</text>
<text x="733" y="1490" class="n">17</text><text x="754" y="1490" class="n">18</text><text x="776" y="1490" class="n">19</text><text x="797" y="1490" class="n">20</text><text x="819" y="1490" class="n">21</text><text x="840" y="1490" class="n">22</text><text x="862" y="1490" class="n">23</text><text x="883" y="1490" class="n">24</text><text x="904" y="1490" class="n">25</text><text x="926" y="1490" class="n">26</text><text x="947" y="1490" class="n">27</text>
<text x="733" y="1511" class="n">28</text><text x="754" y="1511" class="n">29</text><text x="776" y="1511" class="n">30</text><text x="862" y="1511" class="n">31</text><text x="883" y="1511" class="n">32</text><text x="904" y="1511" class="n">33</text><text x="926" y="1511" class="n">34</text><text x="947" y="1511" class="n">35</text>
</g>
<text x="1308" y="1524" style="font-weight:normal;font-size:18px">WI-14465</text>
</svg>
</body></html>
